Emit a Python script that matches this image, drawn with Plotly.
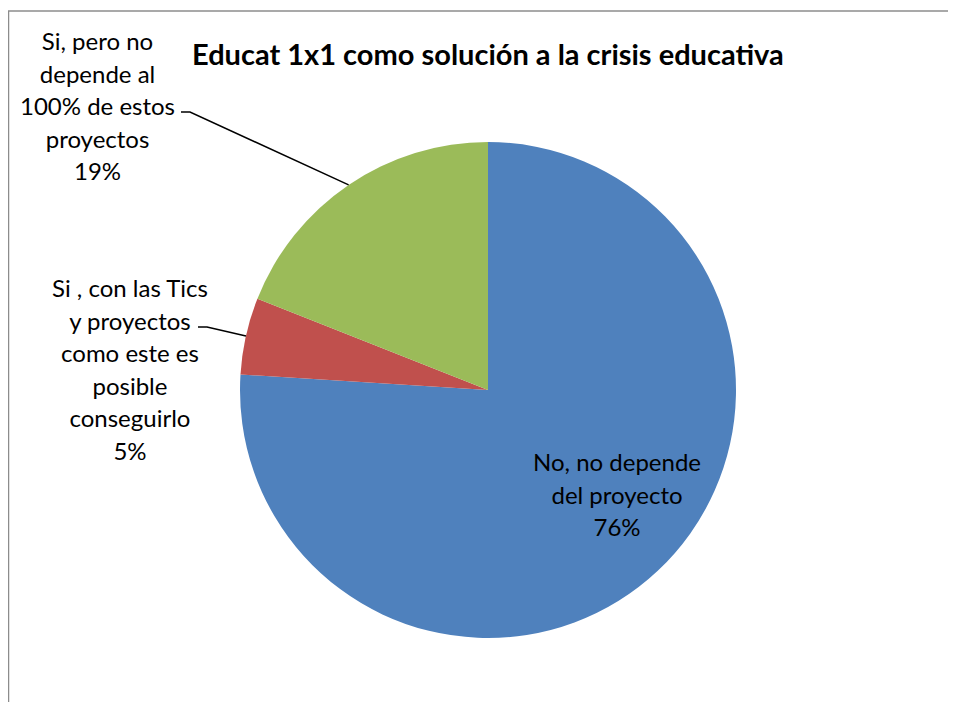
import math
import plotly.graph_objects as go

labels = ["No, no depende del proyecto",
          "Si , con las Tics y proyectos como este es posible conseguirlo",
          "Si, pero no depende al 100% de estos proyectos"]
label_lines = [["No, no depende", "del proyecto"],
               ["Si , con las Tics", "y proyectos", "como este es", "posible", "conseguirlo"],
               ["Si, pero no", "depende al", "100% de estos", "proyectos"]]
values = [76, 5, 19]
colors = ["#4F81BD", "#C0504D", "#9BBB59"]
title = "Educat 1x1 como solución a la crisis educativa"

OFF = 8  # browser body margin
W, H = 956 - OFF, 702 - OFF
cx, cy, R = 488 - OFF, 390 - OFF, 248  # pie centre / radius in figure pixels

fig = go.Figure(go.Pie(
    labels=labels, values=values, sort=False, direction="clockwise", rotation=0,
    marker=dict(colors=colors, line=dict(width=0)),
    textinfo="none", hoverinfo="label+percent", showlegend=False,
    domain=dict(x=[(cx - R) / W, (cx + R) / W], y=[(H - cy - R) / H, (H - cy + R) / H]),
))

FONT = "Lato, Carlito, Calibri, sans-serif"
total = sum(values)
pcts = [round(v * 100 / total) for v in values]

def px2paper(x, y):
    return (x - OFF) / W, 1 - (y - OFF) / H

# label anchor centres and leader start points (page pixels)
label_pos = [(617, 494), (130, 369), (97, 105)]
leader_start = [None, (198, 327), (181, 112)]

annotations = []
shapes = []
cum = 0
for i, v in enumerate(values):
    mid = (cum + v / 2) / total
    cum += v
    ang = 2 * math.pi * mid
    ex, ey = cx + OFF + R * math.sin(ang), cy + OFF - R * math.cos(ang)
    lines = label_lines[i] + [f"{pcts[i]}%"]
    text = "<br>".join(f"<span style='font-size:24px'>{l}</span>" for l in lines)
    px, py = px2paper(*label_pos[i])
    annotations.append(dict(x=px, y=py, xref="paper", yref="paper", text=text,
                            showarrow=False, xanchor="center", yanchor="middle",
                            align="center", font=dict(family=FONT, size=25, color="#000000")))
    if leader_start[i] is not None:
        sx, sy = leader_start[i]
        x0, y0 = px2paper(sx, sy)
        x1, _ = px2paper(sx + 9, sy)
        x2, y2 = px2paper(ex, ey)
        path = f"M {x0},{y0} L {x1},{y0} L {x2},{y2}"
        shapes.append(dict(type="path", xref="paper", yref="paper", path=path,
                           line=dict(color="#000000", width=1.5)))

# chart border (top and left visible)
bx, by = px2paper(8, 11)
shapes.append(dict(type="line", xref="paper", yref="paper", x0=bx, x1=1.2, y0=by, y1=by,
                   line=dict(color="#8c8c8c", width=1.5)))
shapes.append(dict(type="line", xref="paper", yref="paper", x0=bx + 0.5 / W, x1=bx + 0.5 / W, y0=by, y1=-0.2,
                   line=dict(color="#8c8c8c", width=1.5)))

tx, ty = px2paper(488, 53)
annotations.append(dict(x=tx, y=ty, xref="paper", yref="paper", text=f"<b>{title}</b>",
                        showarrow=False, xanchor="center", yanchor="middle",
                        font=dict(family=FONT, size=29, color="#000000")))

fig.update_layout(width=W, height=H, margin=dict(l=0, r=0, t=0, b=0),
                  paper_bgcolor="white", plot_bgcolor="white",
                  annotations=annotations, shapes=shapes)
fig.write_html("out.html")
